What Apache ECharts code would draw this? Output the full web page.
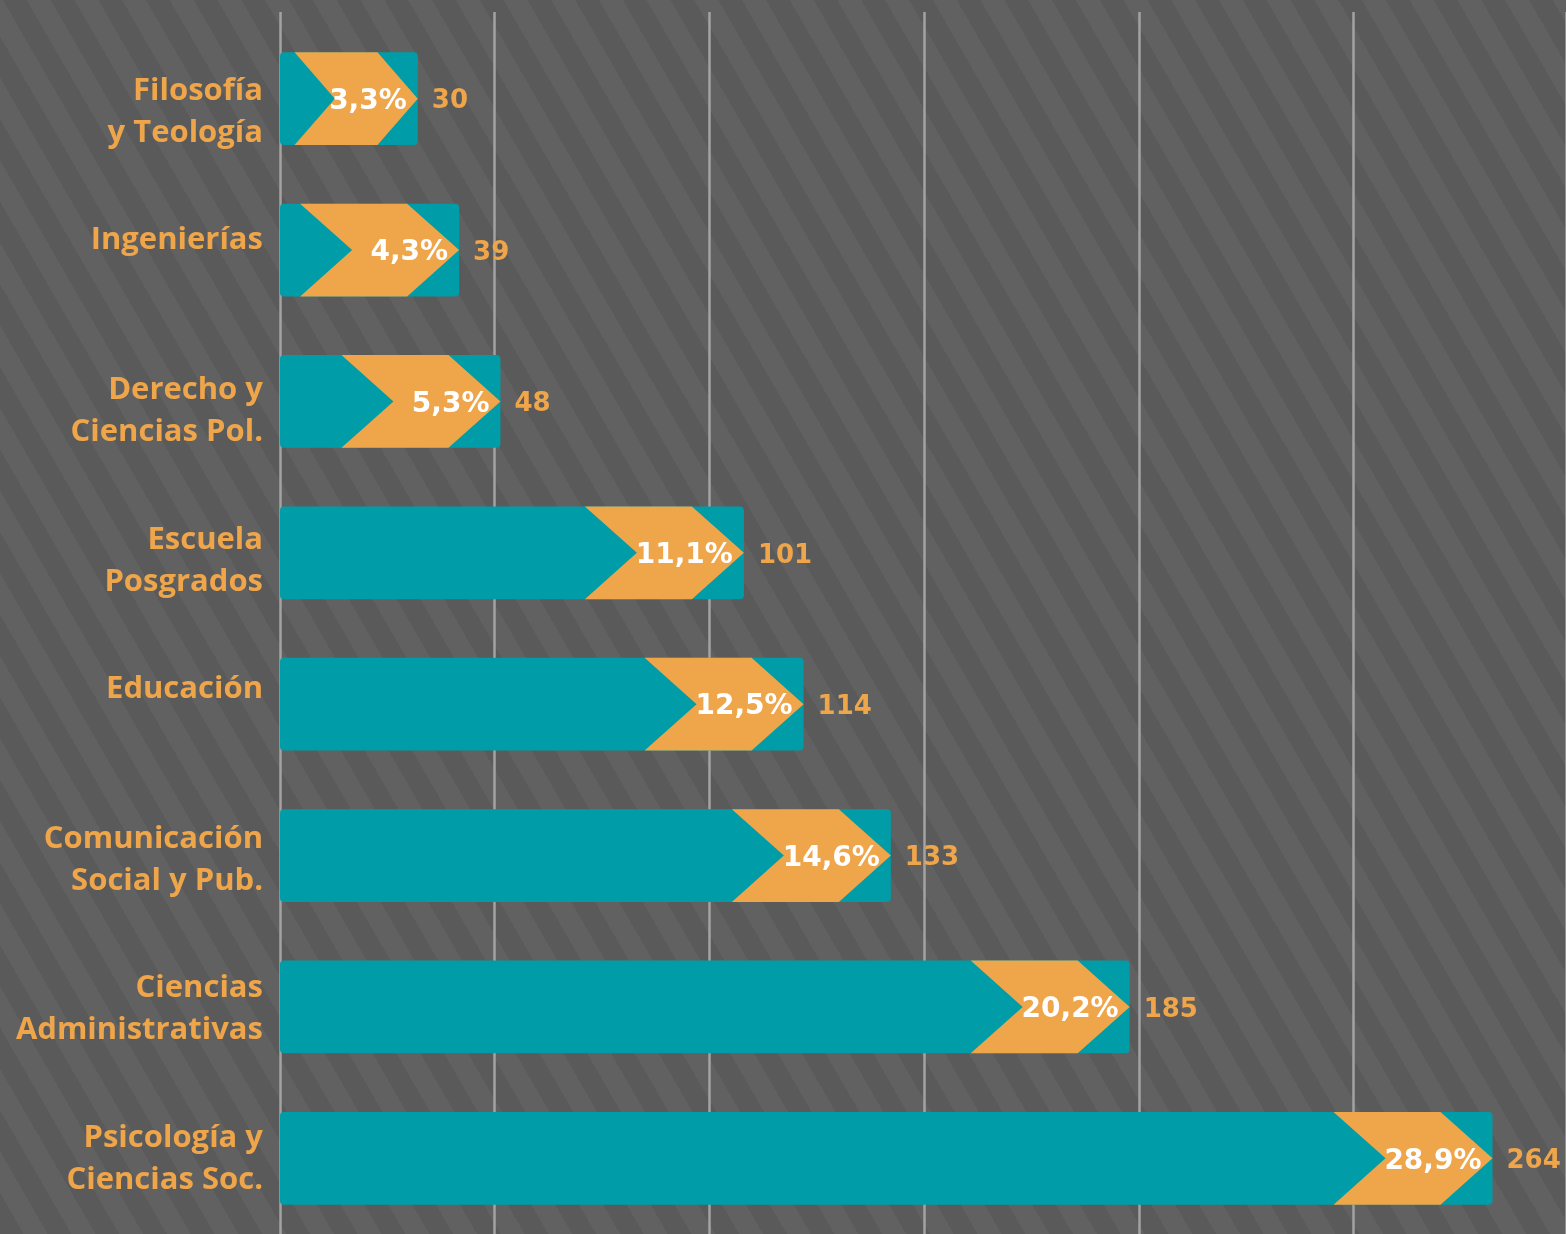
<!DOCTYPE html>
<html>
<head>
<meta charset="utf-8">
<script src="https://cdn.jsdelivr.net/npm/echarts@6/dist/echarts.min.js"></script>
<style>
  html, body { margin: 0; padding: 0; }
  #chart {
    width: 1566px; height: 1234px;
    background: repeating-linear-gradient(60deg, #5a5a5a 0px, #5a5a5a 20.6px, #616161 20.6px, #616161 41.3px);
  }
</style>
</head>
<body>
<div id="chart"></div>
<script>
const categories = ['Filosofía\ny Teología', 'Ingenierías', 'Derecho y\nCiencias Pol.', 'Escuela\nPosgrados', 'Educación', 'Comunicación\nSocial y Pub.', 'Ciencias\nAdministrativas', 'Psicología y\nCiencias Soc.'];
const counts = [30, 39, 48, 101, 114, 133, 185, 264];
const percents = ['3,3%', '4,3%', '5,3%', '11,1%', '12,5%', '14,6%', '20,2%', '28,9%'];

const TEAL = '#009DA9';
const ORANGE = '#EFA54A';

const chart = echarts.init(document.getElementById('chart'), null, { renderer: 'canvas' });

function renderBar(params, api) {
  const idx = api.value(1);
  const start = api.coord([0, idx]);
  const end = api.coord([api.value(0), idx]);
  const band = api.size([0, 1])[1];
  const h = band * 0.613;
  const cy = end[1];
  const top = cy - h / 2, bottom = cy + h / 2;
  const x0 = start[0], tip = end[0];
  const len = tip - x0;
  const s = Math.min(1, len * 0.9 / 160);
  const w = 107 * s, d = 52 * s;
  return {
    type: 'group',
    children: [
      { type: 'rect', shape: { x: x0, y: top, width: len, height: h, r: 4 }, style: { fill: TEAL } },
      { type: 'polygon', shape: { points: [
          [tip - d - w, top], [tip - d, top], [tip, cy], [tip - d, bottom], [tip - d - w, bottom], [tip - w, cy]
        ] }, style: { fill: ORANGE } },
      { type: 'text', style: { text: percents[idx], x: tip - 11, y: cy + 3, align: 'right', verticalAlign: 'middle',
          fill: '#ffffff', font: 'bold 28px "DejaVu Sans"' } },
      { type: 'text', style: { text: String(counts[idx]), x: tip + 14, y: cy + 3, align: 'left', verticalAlign: 'middle',
          fill: ORANGE, font: 'bold 26px "DejaVu Sans"' } }
    ]
  };
}

const option = {
  backgroundColor: 'transparent',
  animation: false,
  grid: [
    { left: 280, top: 12, right: -2, bottom: 0 },
    { left: 280, top: 23, width: 1286, height: 1213 },
    { left: 280, top: 37, width: 1286, height: 1197 }
  ],
  xAxis: [
    { gridIndex: 0, type: 'value', min: 0, max: 5.99, interval: 1,
      axisLine: { show: false }, axisTick: { show: false }, axisLabel: { show: false },
      splitLine: { show: true, lineStyle: { color: '#a3a3a3', width: 2.5 } } },
    { gridIndex: 1, type: 'value', min: 0, max: 280,
      axisLine: { show: false }, axisTick: { show: false }, axisLabel: { show: false }, splitLine: { show: false } },
    { gridIndex: 2, type: 'value', min: 0, max: 1, show: false }
  ],
  yAxis: [
    { gridIndex: 0, type: 'category', data: categories, show: false },
    { gridIndex: 1, type: 'category', data: categories, inverse: true, show: false },
    { gridIndex: 2, type: 'category', data: categories, inverse: true,
      axisLine: { show: false }, axisTick: { show: false }, splitLine: { show: false },
      axisLabel: {
        margin: 17, align: 'right',
        color: ORANGE, fontFamily: 'Open Sans', fontWeight: 'bold', fontSize: 31, lineHeight: 42,
        formatter: v => v.indexOf('\n') >= 0 ? v : v + '\n '
      } }
  ],
  series: [{
    type: 'custom',
    xAxisIndex: 1, yAxisIndex: 1,
    renderItem: renderBar,
    encode: { x: 0, y: 1 },
    data: counts.map((c, i) => [c, i])
  }]
};
chart.setOption(option);
</script>
</body>
</html>
